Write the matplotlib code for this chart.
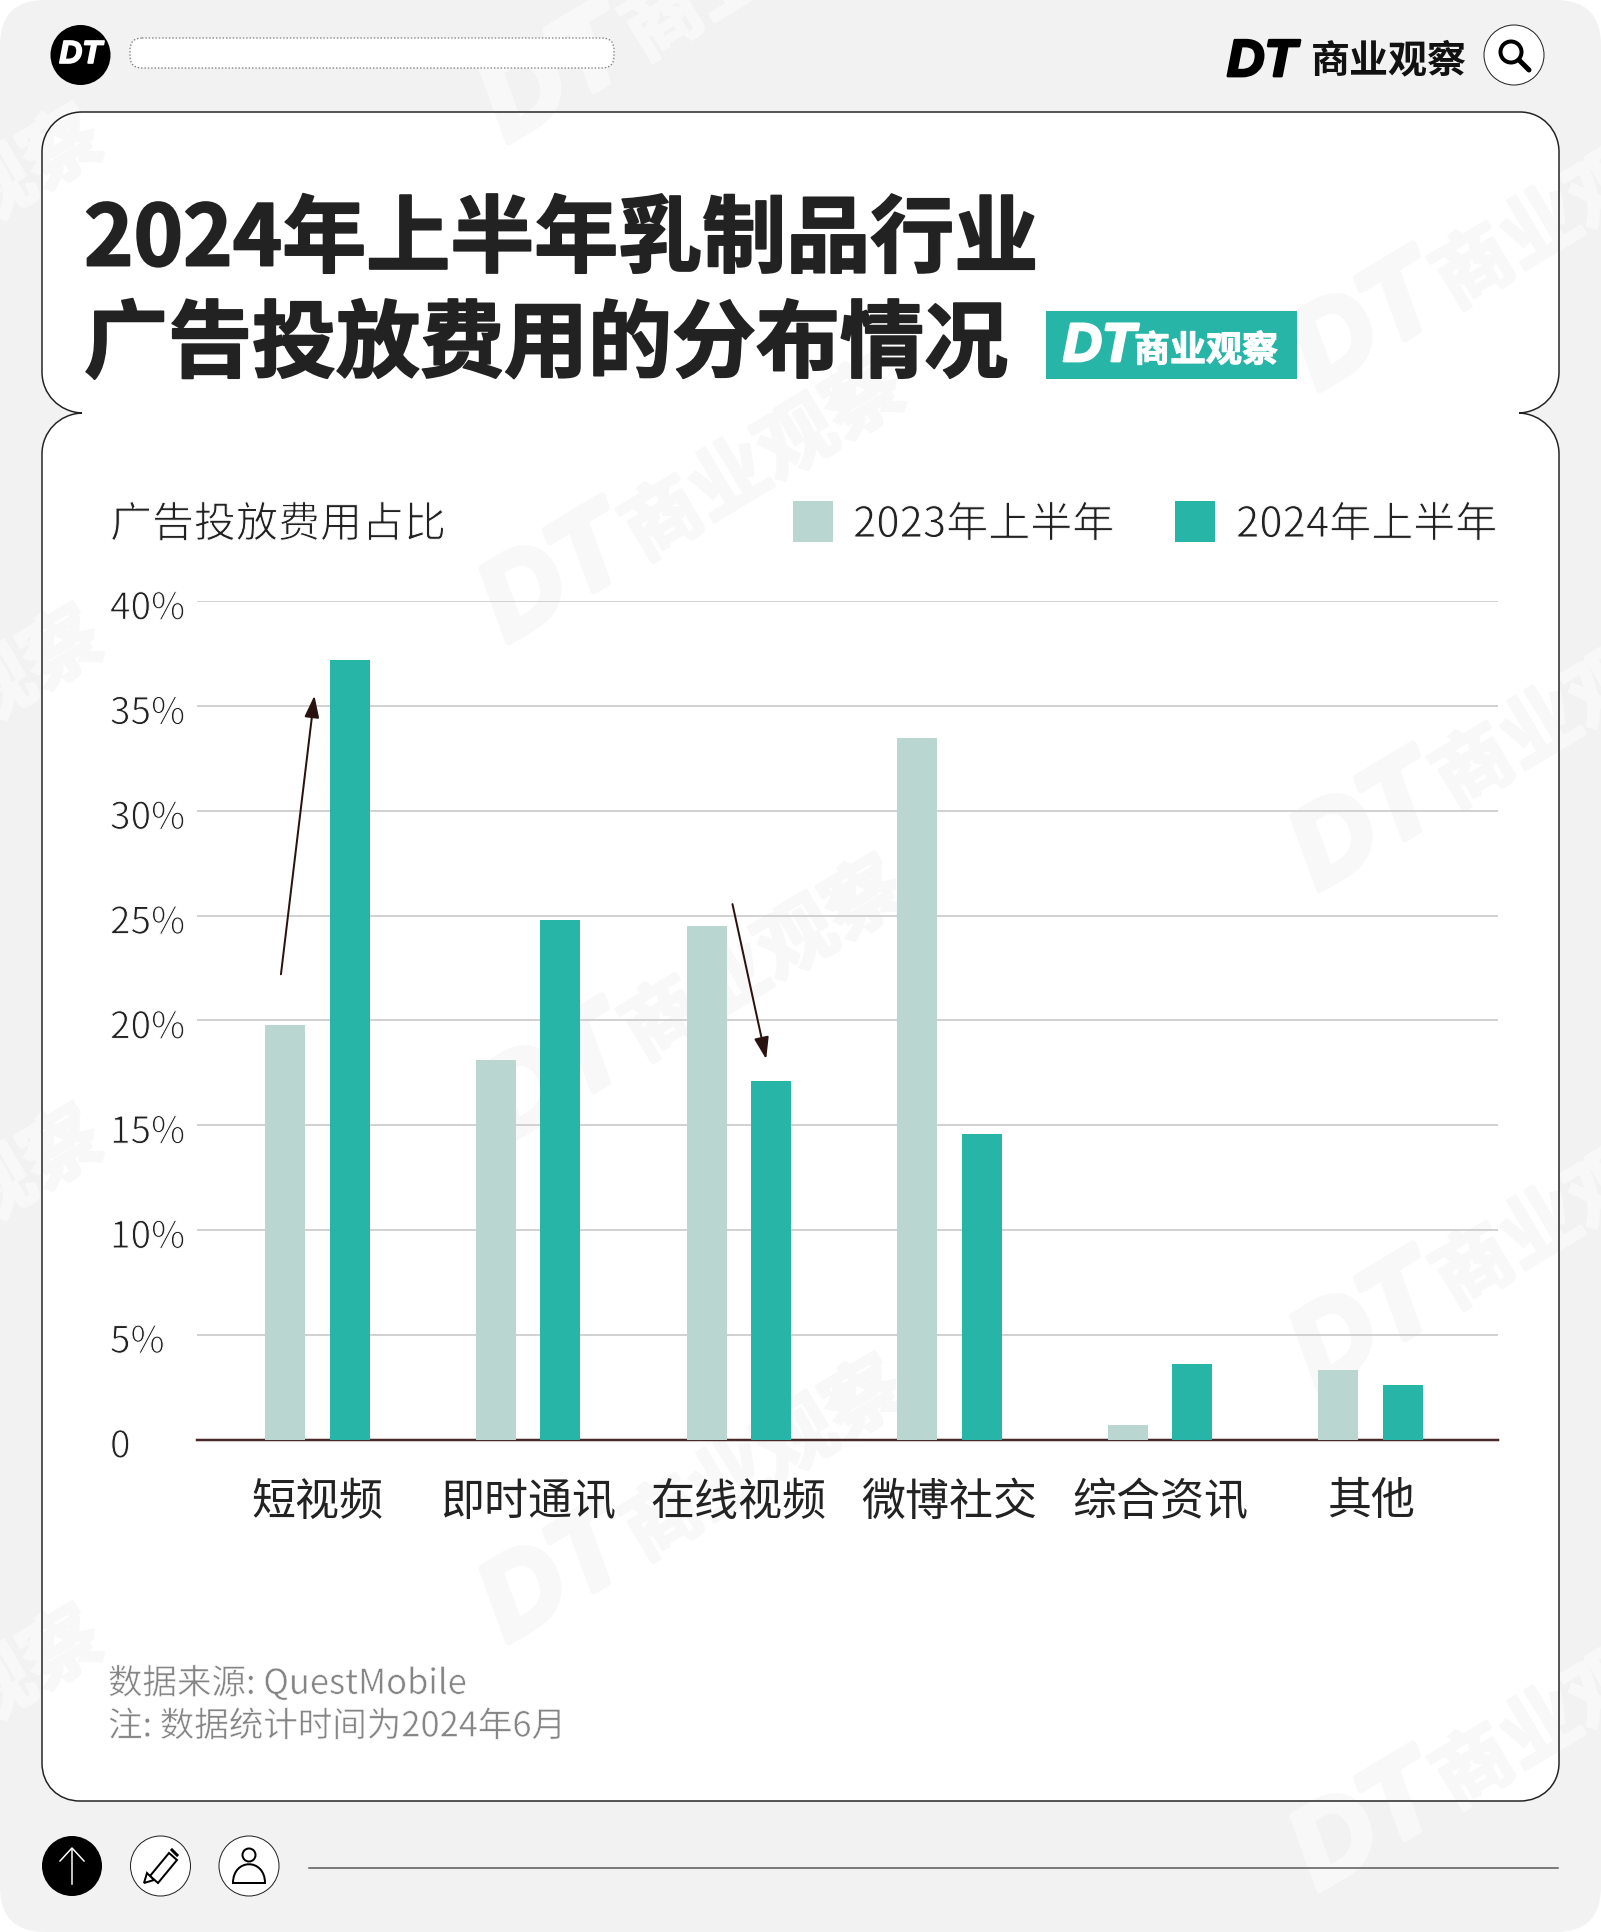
import numpy as np
import matplotlib
matplotlib.use("Agg")
import matplotlib.pyplot as plt
import matplotlib.patheffects as pe
from matplotlib.patches import FancyBboxPatch, PathPatch, Circle, Rectangle, Polygon
from matplotlib.path import Path
from matplotlib.transforms import ScaledTranslation

plt.rcParams['font.family'] = ['Noto Sans CJK SC', 'DejaVu Sans']

# datos
categorias = ['短视频', '即时通讯', '在线视频', '微博社交', '综合资讯', '其他']
valores_2023 = [19.8, 18.1, 24.5, 33.5, 0.7, 3.3]
valores_2024 = [37.2, 24.8, 17.1, 14.6, 3.6, 2.6]
series = ['2023年上半年', '2024年上半年']
y_ticks = [0, 5, 10, 15, 20, 25, 30, 35, 40]
y_labels = ['0', '5%', '10%', '15%', '20%', '25%', '30%', '35%', '40%']
titulo = ['2024年上半年乳制品行业', '广告投放费用的分布情况']
y_titulo = '广告投放费用占比'
nota = ['数据来源: QuestMobile', '注: 数据统计时间为2024年6月']

W, H = 1601, 1932
PX = 0.72  # pixeles a puntos con dpi 100
VERDE = '#26b5a6'
CLARO = '#b9d6d0'
CJK = ['Noto Sans CJK SC', 'DejaVu Sans']
LATIN = ['Liberation Sans']
# trazo blanco encima del relleno para adelgazar la letra
FINO = [pe.Stroke(linewidth=0.7, foreground='white')]
FINO_GRIS = [pe.Stroke(linewidth=0.4, foreground='white')]

def grueso(color, ancho):
    return [pe.Stroke(linewidth=ancho, foreground=color)]

fig = plt.figure(figsize=(W / 100, H / 100), dpi=100, facecolor='white')

# capa de fondo en coordenadas de pixel
bg = fig.add_axes([0, 0, 1, 1], zorder=0)
bg.set_xlim(0, W)
bg.set_ylim(H, 0)
bg.axis('off')

bg.add_patch(FancyBboxPatch((0, 0), W, H, boxstyle='round,pad=0,rounding_size=45',
                            fc='#f2f2f2', ec='none', zorder=1))

# panel blanco con la muesca a los lados
codes_c = [Path.CURVE4] * 3
vert = [(82, 112), (1520, 112)]
cod = [Path.MOVETO, Path.LINETO]
def curva(p1, p2, p3):
    vert.extend([p1, p2, p3])
    cod.extend(codes_c)
def recta(p):
    vert.append(p)
    cod.append(Path.LINETO)
curva((1542, 112), (1559, 130), (1559, 152))
recta((1559, 372))
curva((1559, 394), (1542, 412), (1519, 413))
curva((1542, 414), (1559, 432), (1559, 454))
recta((1559, 1763))
curva((1559, 1785), (1542, 1801), (1520, 1801))
recta((80, 1801))
curva((58, 1801), (42, 1785), (42, 1763))
recta((42, 454))
curva((42, 432), (59, 414), (82, 413))
curva((59, 412), (42, 394), (42, 372))
recta((42, 152))
curva((42, 130), (59, 112), (82, 112))
bg.add_patch(PathPatch(Path(vert, cod), fc='white', ec='none', zorder=2))
bg.add_patch(PathPatch(Path(vert, cod), fc='none', ec='#222222', lw=1.5 * PX, zorder=3.5))

# marca de agua
marcas = [(495, 150), (495, 650), (495, 1150), (495, 1650),
          (1306, 398), (1306, 898), (1306, 1398), (1306, 1898),
          (-307, 400), (-307, 900), (-307, 1400), (-307, 1900)]
ang = np.radians(31)
for mx, my in marcas:
    bg.text(mx + 14 * np.cos(ang), my - 14 * np.sin(ang), 'DT', family=LATIN, weight='bold', style='italic',
            fontsize=112 * PX, color='#f8f8f8', rotation=31, rotation_mode='anchor',
            ha='left', va='baseline', zorder=3, path_effects=grueso('#f8f8f8', 5))
    bg.text(mx + 172 * np.cos(ang), my - 172 * np.sin(ang), '商业观察', family=CJK, weight='bold',
            fontsize=78 * PX, color='#f8f8f8', rotation=31, rotation_mode='anchor',
            ha='left', va='baseline', zorder=3, path_effects=grueso('#f8f8f8', 2))

# cabecera
bg.add_patch(Circle((80.5, 55), 30, fc='black', ec='none', zorder=4))
bg.text(80.5, 55, 'DT', family=LATIN, weight='bold', style='italic', fontsize=32 * PX,
        color='white', ha='center', va='center', zorder=5, path_effects=grueso('white', 1.2))
bg.add_patch(FancyBboxPatch((130, 38), 484, 30, boxstyle='round,pad=0,rounding_size=12',
                            fc='white', ec='#777777', lw=1.2 * PX, ls=(0, (1.2, 1.6)), zorder=4))
bg.text(1227, 76, 'DT', family=LATIN, weight='bold', style='italic', fontsize=52 * PX,
        color='black', ha='left', va='baseline', zorder=5, path_effects=grueso('black', 2))
bg.text(1311, 61, '商业观察', family=CJK, weight='bold', fontsize=39 * PX,
        color='#111111', ha='left', va='center', zorder=5)
bg.add_patch(Circle((1514, 55), 30, fc='white', ec='#222222', lw=1 * PX, zorder=4))
bg.add_patch(Circle((1511, 52), 10.5, fc='none', ec='black', lw=4 * PX, zorder=5))
bg.plot([1519, 1529], [60, 70], color='black', lw=5 * PX, solid_capstyle='round', zorder=5)

# titulo
bg.text(84, 241, titulo[0], family=CJK, weight='bold', fontsize=84 * PX, color='#222222',
        ha='left', va='center', zorder=5, path_effects=grueso('#222222', 1.4))
bg.text(84, 346, titulo[1], family=CJK, weight='bold', fontsize=84 * PX, color='#222222',
        ha='left', va='center', zorder=5, path_effects=grueso('#222222', 1.4))
bg.add_patch(Rectangle((1046, 311), 251, 68, fc=VERDE, ec='none', zorder=4))
bg.text(1063, 361, 'DT', family=LATIN, weight='bold', style='italic', fontsize=54 * PX,
        color='white', ha='left', va='baseline', zorder=5, path_effects=grueso('white', 2))
bg.text(1134, 351, '商业观察', family=CJK, weight='bold', fontsize=36 * PX, color='white',
        ha='left', va='center', zorder=5, path_effects=grueso('white', 0.8))

# titulo del eje y leyenda
bg.text(110, 525, y_titulo, family=CJK, fontsize=42 * PX, color='#222222',
        ha='left', va='center', zorder=5, path_effects=FINO)
bg.add_patch(Rectangle((792.5, 501), 40.5, 40.5, fc=CLARO, ec='none', zorder=5))
bg.text(853, 525, series[0], family=CJK, fontsize=42 * PX, color='#222222',
        ha='left', va='center', zorder=5, path_effects=FINO)
bg.add_patch(Rectangle((1174.5, 501), 40.5, 40.5, fc=VERDE, ec='none', zorder=5))
bg.text(1236, 525, series[1], family=CJK, fontsize=42 * PX, color='#222222',
        ha='left', va='center', zorder=5, path_effects=FINO)

# notas
bg.text(108, 1684, nota[0], family=CJK, fontsize=34.5 * PX, color='#858585',
        ha='left', va='center', zorder=5, path_effects=FINO_GRIS)
bg.text(108, 1727, nota[1], family=CJK, fontsize=34.5 * PX, color='#858585',
        ha='left', va='center', zorder=5, path_effects=FINO_GRIS)

# iconos de abajo
bg.add_patch(Circle((72, 1866), 30, fc='black', ec='none', zorder=4))
bg.plot([72, 72], [1849, 1884], color='white', lw=1.5 * PX, zorder=5)
bg.plot([60, 72, 84], [1861, 1848, 1861], color='white', lw=1.5 * PX, zorder=5)
bg.add_patch(Circle((160.5, 1866), 30, fc='white', ec='#222222', lw=1 * PX, zorder=4))
bg.add_patch(Polygon([(150, 1876), (169, 1853), (177, 1860), (158, 1883)], closed=True,
                     fc='white', ec='black', lw=2 * PX, zorder=5))
bg.add_patch(Polygon([(144, 1883), (147, 1873), (154, 1880)], closed=True,
                     fc='white', ec='black', lw=2 * PX, zorder=5))
bg.plot([172, 177], [1850, 1855], color='black', lw=3 * PX, zorder=5)
bg.add_patch(Circle((249, 1866), 30, fc='white', ec='#222222', lw=1 * PX, zorder=4))
bg.add_patch(Circle((249, 1855), 6.5, fc='white', ec='black', lw=2 * PX, zorder=5))
persona = [(233, 1883), (233, 1858), (265, 1858), (265, 1883), (233, 1883)]
bg.add_patch(PathPatch(Path(persona, [Path.MOVETO, Path.CURVE4, Path.CURVE4, Path.CURVE4, Path.CLOSEPOLY]),
                       fc='white', ec='black', lw=2 * PX, zorder=5))
bg.plot([309, 1558], [1868, 1868], color='#555555', lw=1.5 * PX, zorder=4)

# grafico de barras
izq, der, arriba, abajo = 197, 1498, 601.3, 1439.5
ax = fig.add_axes([izq / W, 1 - abajo / H, (der - izq) / W, (abajo - arriba) / H], zorder=2)
ax.patch.set_alpha(0)
x = np.arange(len(categorias))
ancho = 40 / 210.6
sep = 32.15 / 210.6
ax.bar(x - sep, valores_2023, ancho, color=CLARO, zorder=3, label=series[0])
ax.bar(x + sep, valores_2024, ancho, color=VERDE, zorder=3, label=series[1])
ax.set_xlim(-0.5726, 5.605)
ax.set_ylim(0, 40)

ax.set_yticks(y_ticks)
ax.set_yticklabels(y_labels, family=CJK, fontsize=37 * PX, color='#222222', ha='left')
ax.tick_params(axis='y', length=0, pad=87 * PX)
baja = ScaledTranslation(0, -3 * PX / 72, fig.dpi_scale_trans)
for et in ax.get_yticklabels():
    et.set_transform(et.get_transform() + baja)
    et.set_path_effects(FINO)
ax.set_xticks(x)
ax.set_xticklabels(categorias, family=CJK, fontsize=44 * PX, color='#222222')
ax.tick_params(axis='x', length=0, pad=39 * PX)
ax.grid(axis='y', color='#c8c8c8', lw=1.6 * PX, zorder=1)
ax.set_axisbelow(True)
for lado in ['top', 'left', 'right']:
    ax.spines[lado].set_visible(False)
ax.spines['bottom'].set_color('#4a2a28')
ax.spines['bottom'].set_linewidth(2.5 * PX)

# flechas
flecha = dict(arrowstyle='-|>,head_length=0.95,head_width=0.32', color='#2a1210', lw=2 * PX,
              shrinkA=0, shrinkB=0, mutation_scale=14)
ax.annotate('', xy=(-0.015, 35.5), xytext=(-0.174, 22.2), arrowprops=flecha, zorder=5)
ax.annotate('', xy=(2.13, 18.15), xytext=(1.97, 25.55), arrowprops=flecha, zorder=5)

fig.savefig('out.png', dpi=100)
